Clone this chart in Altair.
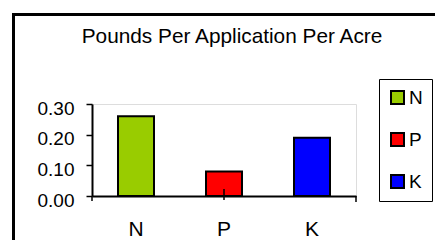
import altair as alt
import pandas as pd

nutrients = ["N", "P", "K"]
pounds = [0.26, 0.08, 0.19]
colors = ["#99CC00", "#FF0000", "#0000FF"]
y_ticks = [0.0, 0.1, 0.2, 0.3]
title_text = "Pounds Per Application Per Acre"

df = pd.DataFrame({"nutrient": nutrients, "pounds": pounds})
FONT = "Liberation Sans"

xscale = alt.Scale(domain=nutrients, paddingInner=0, paddingOuter=0)

bars = alt.Chart(df).mark_bar(stroke="black", strokeWidth=2, size=36).encode(
    x=alt.X("nutrient:N", sort=nutrients, title=None, scale=xscale,
            axis=alt.Axis(labelAngle=0, labelFontSize=21, labelFont=FONT,
                          labelColor="black", domainColor="black", domainWidth=2,
                          tickSize=5, tickColor="transparent", labelPadding=17)),
    y=alt.Y("pounds:Q", title=None,
            scale=alt.Scale(domain=[0, 0.3], nice=False),
            axis=alt.Axis(values=y_ticks, format=".2f", grid=False,
                          labelFontSize=19, labelFont=FONT, labelColor="black",
                          domainColor="black", domainWidth=2, tickColor="black",
                          tickSize=6, tickWidth=1.5, labelPadding=12, labelOffset=4)),
    color=alt.Color("nutrient:N", sort=nutrients,
                    scale=alt.Scale(domain=nutrients, range=colors),
                    legend=alt.Legend(title=None, orient="none", legendX=287, legendY=-25,
                                      symbolType="square", symbolSize=169,
                                      symbolStrokeColor="black", symbolStrokeWidth=2,
                                      labelFontSize=19, labelFont=FONT, labelColor="black",
                                      labelOffset=2, rowPadding=21,
                                      strokeColor="black", fillColor="white",
                                      padding=9)),
)

# x-axis tick marks: at both ends of the axis and through the middle category
first_df = df[df.nutrient == nutrients[0]]
mid_df = df[df.nutrient == nutrients[1]]
last_df = df[df.nutrient == nutrients[-1]]

tick_left = alt.Chart(first_df).mark_rule(color="black", strokeWidth=1.5).encode(
    x=alt.X("nutrient:N", bandPosition=0, scale=xscale), y=alt.value(92), y2=alt.value(97))
tick_mid = alt.Chart(mid_df).mark_rule(color="black", strokeWidth=1.5).encode(
    x=alt.X("nutrient:N", bandPosition=0.5, scale=xscale), y=alt.value(85), y2=alt.value(96))
tick_right = alt.Chart(last_df).mark_rule(color="black", strokeWidth=1.5).encode(
    x=alt.X("nutrient:N", bandPosition=1, scale=xscale), y=alt.value(92), y2=alt.value(98))

frame = alt.Chart(df).mark_rect(fill=None, stroke="black", strokeWidth=3).encode(
    x=alt.value(-78.5), x2=alt.value(420), y=alt.value(-89.5), y2=alt.value(200)
)

chart = alt.layer(frame, bars, tick_left, tick_mid, tick_right).properties(
    width=264, height=92,
    title=alt.TitleParams(title_text, fontSize=20.8, font=FONT, fontWeight="normal",
                          color="black", anchor="middle", frame="group", dx=8, offset=-35),
    autosize=alt.AutoSizeParams(type="none"),
    padding={"left": 84, "top": 96, "right": 79, "bottom": 44},
).configure_view(stroke="#808080", strokeWidth=2).configure(background="white")

chart.save("out.html", embed_options={"renderer": "svg", "actions": False})
